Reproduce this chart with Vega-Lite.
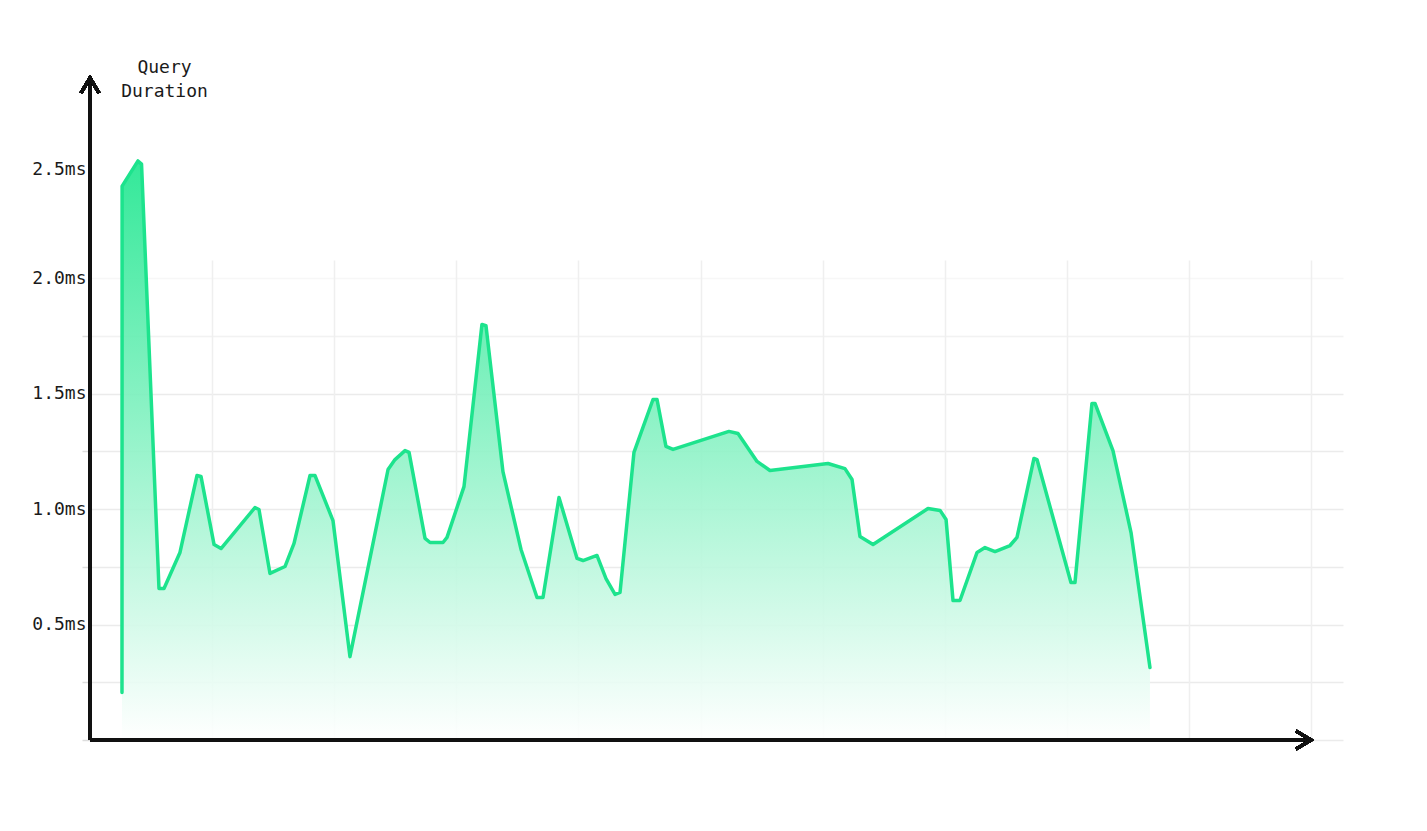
{
  "$schema": "https://vega.github.io/schema/vega-lite/v6.json",
  "width": 1253,
  "height": 662,
  "autosize": {"type": "none"},
  "padding": {"left": 90, "top": 78, "right": 84, "bottom": 91},
  "background": "#ffffff",
  "data": {
    "values": [
      {"t": 0.262, "ms": 0.206},
      {"t": 0.263, "ms": 2.398},
      {"t": 0.393, "ms": 2.507},
      {"t": 0.422, "ms": 2.493},
      {"t": 0.565, "ms": 0.656},
      {"t": 0.606, "ms": 0.656},
      {"t": 0.737, "ms": 0.812},
      {"t": 0.876, "ms": 1.145},
      {"t": 0.909, "ms": 1.141},
      {"t": 1.016, "ms": 0.846},
      {"t": 1.073, "ms": 0.829},
      {"t": 1.351, "ms": 1.006},
      {"t": 1.384, "ms": 0.998},
      {"t": 1.474, "ms": 0.721},
      {"t": 1.597, "ms": 0.751},
      {"t": 1.671, "ms": 0.851},
      {"t": 1.802, "ms": 1.145},
      {"t": 1.843, "ms": 1.145},
      {"t": 1.990, "ms": 0.950},
      {"t": 2.129, "ms": 0.361},
      {"t": 2.441, "ms": 1.171},
      {"t": 2.498, "ms": 1.214},
      {"t": 2.580, "ms": 1.253},
      {"t": 2.613, "ms": 1.245},
      {"t": 2.744, "ms": 0.873},
      {"t": 2.785, "ms": 0.855},
      {"t": 2.891, "ms": 0.855},
      {"t": 2.924, "ms": 0.877},
      {"t": 3.063, "ms": 1.097},
      {"t": 3.210, "ms": 1.799},
      {"t": 3.243, "ms": 1.794},
      {"t": 3.382, "ms": 1.162},
      {"t": 3.530, "ms": 0.825},
      {"t": 3.661, "ms": 0.617},
      {"t": 3.710, "ms": 0.617},
      {"t": 3.841, "ms": 1.050},
      {"t": 3.989, "ms": 0.786},
      {"t": 4.038, "ms": 0.777},
      {"t": 4.152, "ms": 0.799},
      {"t": 4.226, "ms": 0.699},
      {"t": 4.300, "ms": 0.630},
      {"t": 4.341, "ms": 0.639},
      {"t": 4.455, "ms": 1.245},
      {"t": 4.611, "ms": 1.474},
      {"t": 4.644, "ms": 1.474},
      {"t": 4.717, "ms": 1.271},
      {"t": 4.775, "ms": 1.258},
      {"t": 5.233, "ms": 1.336},
      {"t": 5.307, "ms": 1.327},
      {"t": 5.463, "ms": 1.206},
      {"t": 5.569, "ms": 1.167},
      {"t": 6.044, "ms": 1.197},
      {"t": 6.183, "ms": 1.175},
      {"t": 6.241, "ms": 1.128},
      {"t": 6.306, "ms": 0.881},
      {"t": 6.413, "ms": 0.846},
      {"t": 6.863, "ms": 1.002},
      {"t": 6.962, "ms": 0.994},
      {"t": 7.011, "ms": 0.955},
      {"t": 7.068, "ms": 0.604},
      {"t": 7.125, "ms": 0.604},
      {"t": 7.265, "ms": 0.812},
      {"t": 7.330, "ms": 0.833},
      {"t": 7.412, "ms": 0.816},
      {"t": 7.535, "ms": 0.842},
      {"t": 7.592, "ms": 0.877},
      {"t": 7.731, "ms": 1.219},
      {"t": 7.756, "ms": 1.214},
      {"t": 8.034, "ms": 0.682},
      {"t": 8.067, "ms": 0.682},
      {"t": 8.206, "ms": 1.457},
      {"t": 8.231, "ms": 1.457},
      {"t": 8.378, "ms": 1.253},
      {"t": 8.526, "ms": 0.898},
      {"t": 8.681, "ms": 0.314}
    ]
  },
  "layer": [
    {
      "mark": {
        "type": "area",
        "fillOpacity": 0.9,
        "fill": {
          "gradient": "linear",
          "x1": 0, "y1": 0, "x2": 0, "y2": 1,
          "stops": [
            {"offset": 0, "color": "#1de68e"},
            {"offset": 1, "color": "#ffffff"}
          ]
        }
      },
      "encoding": {
        "x": {
          "field": "t",
          "type": "quantitative",
          "scale": {"domain": [0, 10.262], "nice": false, "zero": false},
          "axis": {
            "title": null,
            "values": [1, 2, 3, 4, 5, 6, 7, 8, 9, 10],
            "domain": false,
            "labels": false,
            "grid": false,
            "ticks": true,
            "tickSize": -480,
            "tickColor": "#efefef",
            "tickWidth": 1.5
          }
        },
        "y": {
          "field": "ms",
          "type": "quantitative",
          "scale": {"domain": [0, 2.866], "nice": false},
          "axis": {
            "title": ["Query", "Duration"],
            "titleAngle": 0,
            "titleAlign": "center",
            "titleBaseline": "alphabetic",
            "titleX": 74,
            "titleY": -6,
            "titleLineHeight": 24,
            "titleFont": "DejaVu Sans Mono",
            "titleFontSize": 18,
            "titleFontWeight": "normal",
            "titleColor": "#1a1a1a",
            "values": [0, 0.25, 0.5, 0.75, 1, 1.25, 1.5, 1.75, 2, 2.25, 2.5],
            "domain": false,
            "grid": true,
            "gridColor": "#ebebeb",
            "gridWidth": 1.5,
            "gridOpacity": {"condition": [
              {"test": "datum.value > 2.01", "value": 0},
              {"test": "datum.value > 1.99", "value": 0.4},
              {"test": "datum.value > 1.74", "value": 0.65}
            ], "value": 1},
            "tickSize": 8,
            "tickWidth": 1.5,
            "tickColor": "#dddddd",
            "tickOpacity": {"condition": {"test": "datum.value > 2.01 || (datum.value > 0 && abs(datum.value * 2 - round(datum.value * 2)) < 0.001)", "value": 0}, "value": 1},
            "labelExpr": "datum.value > 0 && abs(datum.value * 2 - round(datum.value * 2)) < 0.001 ? format(datum.value, '.1f') + 'ms' : ''",
            "labelFont": "DejaVu Sans Mono",
            "labelFontSize": 18,
            "labelColor": "#1a1a1a",
            "labelPadding": -4,
            "labelOffset": {"condition": {"test": "datum.value > 2.4", "value": 7}, "value": 0}
          }
        }
      }
    },
    {
      "mark": {"type": "line", "color": "#1de38d", "strokeWidth": 3.5, "strokeJoin": "round", "strokeCap": "round"},
      "encoding": {
        "x": {"field": "t", "type": "quantitative"},
        "y": {"field": "ms", "type": "quantitative"}
      }
    },
    {
      "mark": {"type": "rule", "color": "#111111", "strokeWidth": 3},
      "encoding": {
        "x": {"datum": 0, "type": "quantitative"},
        "x2": {"datum": 10},
        "y": {"datum": 0, "type": "quantitative"}
      }
    },
    {
      "mark": {"type": "rule", "color": "#111111", "strokeWidth": 3},
      "encoding": {
        "x": {"datum": 0, "type": "quantitative"},
        "y": {"datum": 0, "type": "quantitative"},
        "y2": {"datum": 2.866}
      }
    },
    {
      "mark": {"type": "point", "shape": "M-1,-0.6L0,0L-1,0.6", "filled": false, "size": 900, "strokeWidth": 3, "color": "#111111", "opacity": 1, "strokeJoin": "miter"},
      "encoding": {
        "x": {"datum": 10, "type": "quantitative"},
        "y": {"datum": 0, "type": "quantitative"}
      }
    },
    {
      "mark": {"type": "point", "shape": "M-1,-0.6L0,0L-1,0.6", "filled": false, "size": 900, "strokeWidth": 3, "color": "#111111", "opacity": 1, "strokeJoin": "miter", "angle": 270},
      "encoding": {
        "x": {"datum": 0, "type": "quantitative"},
        "y": {"datum": 2.866, "type": "quantitative"}
      }
    }
  ],
  "config": {
    "view": {"stroke": null}
  }
}
